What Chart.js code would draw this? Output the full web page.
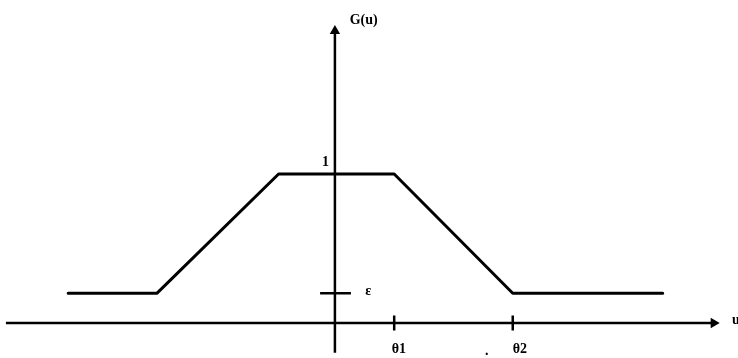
<!DOCTYPE html>
<html>
<head>
<meta charset="utf-8">
<script src="https://cdn.jsdelivr.net/npm/chart.js@4.4.1/dist/chart.umd.min.js"></script>
<style>
  html, body { margin: 0; padding: 0; background: #fff; }
  canvas { display: block; }
</style>
</head>
<body>
<canvas id="myChart" width="738" height="358"></canvas>
<script>
// membership function G(u): flat at eps, ramps up to 1, plateau, ramps back down
var theta1 = 1;
var theta2 = 3;
var eps = 0.2;
var uPoints = [-4.5, -3.0, -0.95, theta1, theta2, 5.53];
var gPoints = [eps, eps, 1, 1, eps, eps];

// axis extents (data units)
var xAxisRange = [-5.55, 6.39];
var yAxisRange = [-0.2, 1.96];

// labels drawn on the chart: text, u, G
var labelTexts = ['G(u)', '1', 'ε', 'θ1', '.', 'θ2', 'u'];
var labelU = [0.25, -0.1, 0.51, theta1 + 0.08, 2.56, theta2 + 0.12, 6.7];
var labelG = [2.03, 1.08, 0.21, -0.175, -0.19, -0.175, 0.02];
var labelAlign = ['left', 'right', 'left', 'center', 'center', 'center', 'left'];

document.addEventListener("DOMContentLoaded", function () {
    var curve = uPoints.map(function (u, i) { return { x: u, y: gPoints[i] }; });

    // little tick marks at theta1, theta2 and at eps on the vertical axis
    var tickMarks = [
        { x: theta1, y: -0.05 }, { x: theta1, y: 0.05 }, { x: theta1, y: null },
        { x: theta2, y: -0.05 }, { x: theta2, y: 0.05 }, { x: theta2, y: null },
        { x: -0.25, y: eps }, { x: 0.27, y: eps }
    ];

    var textPlugin = {
        id: 'axisText',
        afterDatasetsDraw: function (chart) {
            var ctx = chart.ctx;
            var xs = chart.scales.x, ys = chart.scales.y;
            ctx.save();
            ctx.fillStyle = '#000';
            ctx.font = 'bold 14px "Liberation Serif", "DejaVu Serif", serif';
            ctx.textBaseline = 'middle';
            for (var i = 0; i < labelTexts.length; i++) {
                ctx.textAlign = labelAlign[i];
                ctx.fillText(labelTexts[i], xs.getPixelForValue(labelU[i]), ys.getPixelForValue(labelG[i]));
            }
            ctx.restore();
        }
    };

    var ctx = document.getElementById('myChart').getContext('2d');
    var myChart = new Chart(ctx, {
        type: 'line',
        data: {
            datasets: [{
                label: 'G(u)',
                data: curve,
                borderColor: '#000',
                borderWidth: 3,
                pointRadius: 0,
                tension: 0,
                borderJoinStyle: 'round',
                borderCapStyle: 'round'
            },
            {
                label: 'u axis',
                data: [{ x: xAxisRange[0], y: 0 }, { x: xAxisRange[1], y: 0 }],
                borderColor: '#000',
                backgroundColor: '#000',
                borderWidth: 2.5,
                pointStyle: 'triangle',
                pointRotation: [0, 90],
                pointRadius: [0, 6],
                pointBorderWidth: 0
            },
            {
                label: 'G axis',
                data: [{ x: 0, y: yAxisRange[0] }, { x: 0, y: yAxisRange[1] }],
                borderColor: '#000',
                backgroundColor: '#000',
                borderWidth: 2.5,
                pointStyle: 'triangle',
                pointRotation: 0,
                pointRadius: [0, 6],
                pointBorderWidth: 0
            },
            {
                label: 'ticks',
                data: tickMarks,
                borderColor: '#000',
                borderWidth: 2.5,
                pointRadius: 0,
                spanGaps: false
            }]
        },
        options: {
            responsive: false,
            animation: false,
            layout: { padding: 0, autoPadding: false },
            plugins: {
                legend: { display: false },
                tooltip: { enabled: false }
            },
            scales: {
                x: { type: 'linear', min: -5.65, max: 6.8, display: false },
                y: { type: 'linear', min: -0.235, max: 2.168, display: false }
            }
        },
        plugins: [textPlugin]
    });
});
</script>
</body>
</html>
